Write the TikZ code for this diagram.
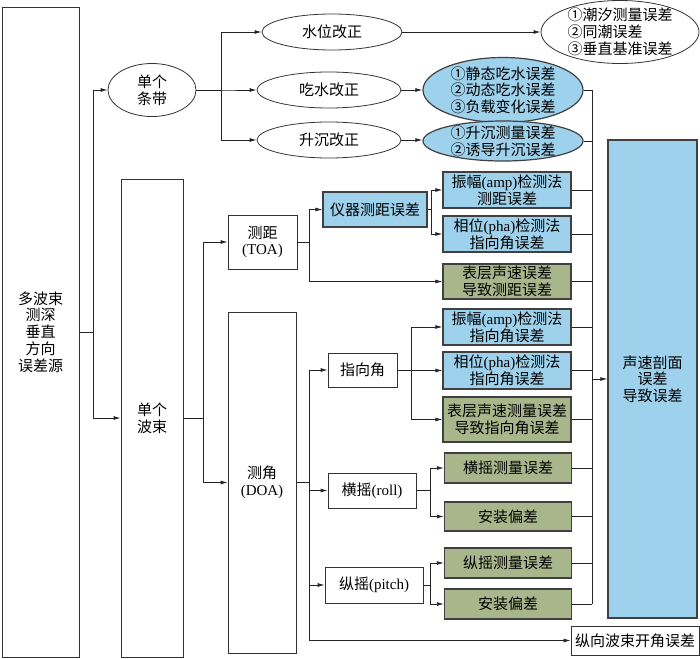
\documentclass[tikz,border=0pt]{standalone}
\usepackage{fontspec}
\setmainfont{Noto Sans CJK SC}
\newfontfamily\lat{Liberation Serif}
\usepackage{tikz}
\usetikzlibrary{shapes,arrows.meta}
\definecolor{errblue}{HTML}{9DD1EC}
\definecolor{errgreen}{HTML}{A9B68C}

\begin{document}
\begin{tikzpicture}[x=1pt,y=-1pt,font=\fontsize{15}{16.7}\selectfont]
\tikzstyle{box}=[rectangle, draw=black!80, line width=0.8pt, inner sep=0pt, align=center]
\tikzstyle{bluebox}=[box, fill=errblue, draw=black!75, line width=1.2pt]
\tikzstyle{greenbox}=[box, fill=errgreen, draw=black!75, line width=1.2pt]
\tikzstyle{oval}=[ellipse, draw=black!80, line width=0.8pt, inner xsep=0pt, inner ysep=-12pt, align=center]
\tikzstyle{blueoval}=[oval, fill=errblue, draw=black!75, line width=1.2pt]
\tikzstyle{connect}=[-{Latex[length=7pt,width=4pt]}, line width=0.8pt, black!85]
\tikzstyle{wire}=[line width=0.8pt, black!85]
\useasboundingbox (0,0) rectangle (700,658);

\node[box, minimum width=77, minimum height=650] (src) at (40.5,332) {多波束\\测深\\垂直\\方向\\误差源};
\node[oval, minimum width=88, minimum height=53] (strip) at (152,90) {单个\\条带};
\node[box, minimum width=62, minimum height=478] (beam) at (152,418) {单个\\波束};

% single strip
\node[oval, minimum width=140, minimum height=36] (wl) at (332,32) {水位改正};
\node[oval, minimum width=144, minimum height=36] (dr) at (329,90) {吃水改正};
\node[oval, minimum width=144, minimum height=36] (hv) at (329,140) {升沉改正};
\node[oval, align=left, minimum width=158, minimum height=63] (wlerr) at (620,32) {①潮汐测量误差\\②同潮误差\\③垂直基准误差};
\node[blueoval, minimum width=160, minimum height=65] (drerr) at (503,90) {①静态吃水误差\\②动态吃水误差\\③负载变化误差};
\node[blueoval, minimum width=160, minimum height=40] (hverr) at (503,141) {①升沉测量误差\\②诱导升沉误差};

% single beam
\node[box, minimum width=69, minimum height=54] (toa) at (262.5,242) {测距\\{\lat(TOA)}};
\node[box, minimum width=68, minimum height=341] (doa) at (262,482.5) {测角\\{\lat(DOA)}};
\node[bluebox, minimum width=104, minimum height=35] (inst) at (375,209.5) {仪器测距误差};
\node[bluebox, minimum width=128, minimum height=36] (ampr) at (507,190) {振幅{\lat(amp)}检测法\\测距误差};
\node[bluebox, minimum width=128, minimum height=36] (phar) at (507,234) {相位{\lat(pha)}检测法\\指向角误差};
\node[greenbox, minimum width=128, minimum height=35] (ssr) at (507,281.5) {表层声速误差\\导致测距误差};
\node[box, minimum width=69, minimum height=34] (ang) at (362.5,370) {指向角};
\node[box, minimum width=88, minimum height=35] (roll) at (372,490.5) {横摇{\lat(roll)}};
\node[box, minimum width=98, minimum height=36] (pitch) at (374,585) {纵摇{\lat(pitch)}};
\node[bluebox, minimum width=128, minimum height=36] (ampa) at (507,327) {振幅{\lat(amp)}检测法\\指向角误差};
\node[bluebox, minimum width=128, minimum height=37] (phaa) at (507,370.5) {相位{\lat(pha)}检测法\\指向角误差};
\node[greenbox, minimum width=128, minimum height=45] (ssa) at (507,419.5) {表层声速测量误差\\导致指向角误差};
\node[greenbox, minimum width=127, minimum height=30] (rollm) at (508,468) {横摇测量误差};
\node[greenbox, minimum width=127, minimum height=29] (rolli) at (508,516.5) {安装偏差};
\node[greenbox, minimum width=127, minimum height=30] (pitm) at (508,563) {纵摇测量误差};
\node[greenbox, minimum width=127, minimum height=30] (piti) at (508,604) {安装偏差};
\node[box, minimum width=128, minimum height=29] (lon) at (635,640.5) {纵向波束开角误差};
\node[bluebox, minimum width=89, minimum height=478] (svp) at (652.5,379) {声速剖面\\误差\\导致误差};

\coordinate (bus) at (592,90);

\draw[connect] (src.east) -- ++(14,0) |- (strip.west);
\draw[connect] (src.east) -- ++(14,0) |- (beam.west);
\draw[connect] (strip.east) -- ++(25,0) |- (wl.west);
\draw[connect] (strip.east) -- ++(25,0) |- (dr.west);
\draw[connect] (strip.east) -- ++(25,0) |- (hv.west);
\draw[connect] (wl.east) -- (wlerr.west);
\draw[connect] (dr.east) -- (drerr.west);
\draw[connect] (hv.east) -- (hv.east -| hverr.west);

\draw[connect] (beam.east) -- ++(20,0) |- (toa.west);
\draw[connect] (beam.east) -- ++(20,0) |- (doa.west);
\draw[connect] (toa.east) -- ++(12,0) |- (inst.west);
\draw[connect] (toa.east) -- ++(12,0) |- (ssr.west);
\draw[connect] (inst.east) -- ++(4,0) |- (ampr.west);
\draw[connect] (inst.east) -- ++(4,0) |- (phar.west);
\draw[connect] (doa.east) -- ++(13,0) |- (ang.west);
\draw[connect] (doa.east) -- ++(13,0) |- (roll.west);
\draw[connect] (doa.east) -- ++(13,0) |- (pitch.west);
\draw[connect] (doa.east) -- ++(13,0) |- (lon.west);
\draw[connect] (ang.east) -- ++(14,0) |- (ampa.west);
\draw[connect] (ang.east) -- ++(14,0) |- (phaa.west);
\draw[connect] (ang.east) -- ++(14,0) |- (ssa.west);
\draw[connect] (roll.east) -- ++(14,0) |- (rollm.west);
\draw[connect] (roll.east) -- ++(14,0) |- (rolli.west);
\draw[connect] (pitch.east) -- ++(7,0) |- (pitm.west);
\draw[connect] (pitch.east) -- ++(7,0) |- (piti.west);

% collector to sound velocity profile
\path[wire]
	(drerr.east) edge (drerr.east -| bus)
	(hverr.east) edge (hverr.east -| bus)
	(ampr.east) edge (ampr.east -| bus)
	(phar.east) edge (phar.east -| bus)
	(ssr.east) edge (ssr.east -| bus)
	(ampa.east) edge (ampa.east -| bus)
	(phaa.east) edge (phaa.east -| bus)
	(ssa.east) edge (ssa.east -| bus)
	(rollm.east) edge (rollm.east -| bus)
	(rolli.east) edge (rolli.east -| bus)
	(pitm.east) edge (pitm.east -| bus)
	(piti.east) edge (piti.east -| bus)
	(bus) edge (bus |- piti.east);
\draw[connect] (bus |- svp.west) -- (svp.west);

\end{tikzpicture}
\end{document}
